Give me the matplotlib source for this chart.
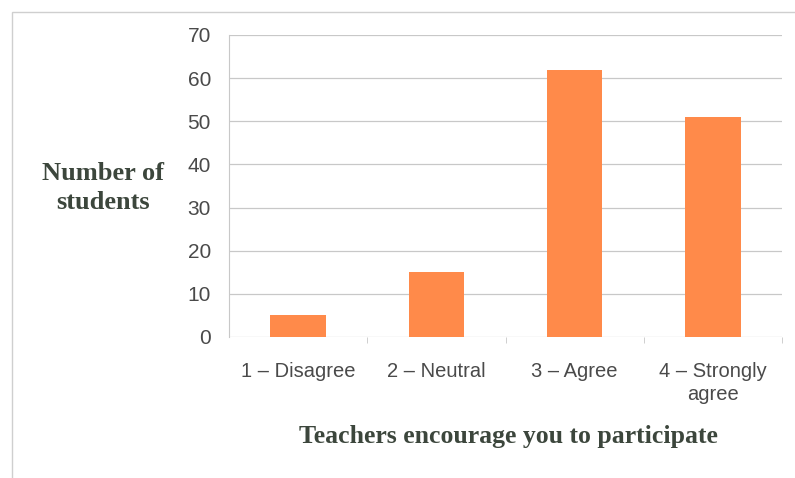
import matplotlib
matplotlib.use("Agg")
import matplotlib.pyplot as plt
from matplotlib.patches import Rectangle
import numpy as np

categories = ["1 – Disagree", "2 – Neutral", "3 – Agree", "4 – Strongly\nagree"]
values = [5, 15, 62, 51]
yticks = [0, 10, 20, 30, 40, 50, 60, 70]

fig = plt.figure(figsize=(7.95, 4.78), dpi=100)
fig.patch.set_facecolor("white")

# outer chart frame (cut at right/bottom)
fig.patches.append(Rectangle((12/795, -0.1), 1.2, 1 - 12/478 + 0.1,
                             transform=fig.transFigure, fill=False,
                             edgecolor="#cfcfcf", linewidth=1.0))

ax = fig.add_axes([229/795, 1 - 337/478, (782 - 229)/795, (337 - 35)/478])
x = np.arange(len(categories))
ax.bar(x, values, width=0.4, color="#FF8A4A", zorder=3)

ax.set_xlim(-0.5, len(categories) - 0.5)
ax.set_ylim(0, 70)
ax.set_yticks(yticks)
ax.set_yticklabels([str(v) for v in yticks])
ax.set_xticks(x)
ax.set_xticklabels(categories, linespacing=1.3)
ax.set_xticks(np.arange(len(categories)) + 0.5, minor=True)

ax.grid(axis="y", color="#c8c8c8", linewidth=0.9, zorder=0)
for s in ["top", "right", "bottom"]:
    ax.spines[s].set_visible(False)
ax.spines["left"].set_color("#c8c8c8")

ax.tick_params(axis="y", length=0, pad=13, labelsize=15, labelcolor="#4a4a4a",
               labelfontfamily="Liberation Sans")
ax.tick_params(axis="x", which="major", length=0, pad=18, labelsize=14.5,
               labelcolor="#4a4a4a", labelfontfamily="Liberation Sans")
ax.tick_params(axis="x", which="minor", length=4, color="#c8c8c8")

fig.text(103/795, 1 - 188/478, "Number of\nstudents", ha="center", va="center",
         fontsize=19, fontweight="bold", family="Liberation Serif",
         color="#3c463c", linespacing=1.3)
fig.text(508/795, 1 - 437/478, "Teachers encourage you to participate",
         ha="center", va="center", fontsize=18.5, fontweight="bold",
         family="Liberation Serif", color="#3c463c")

fig.savefig("out.png", dpi=100)
